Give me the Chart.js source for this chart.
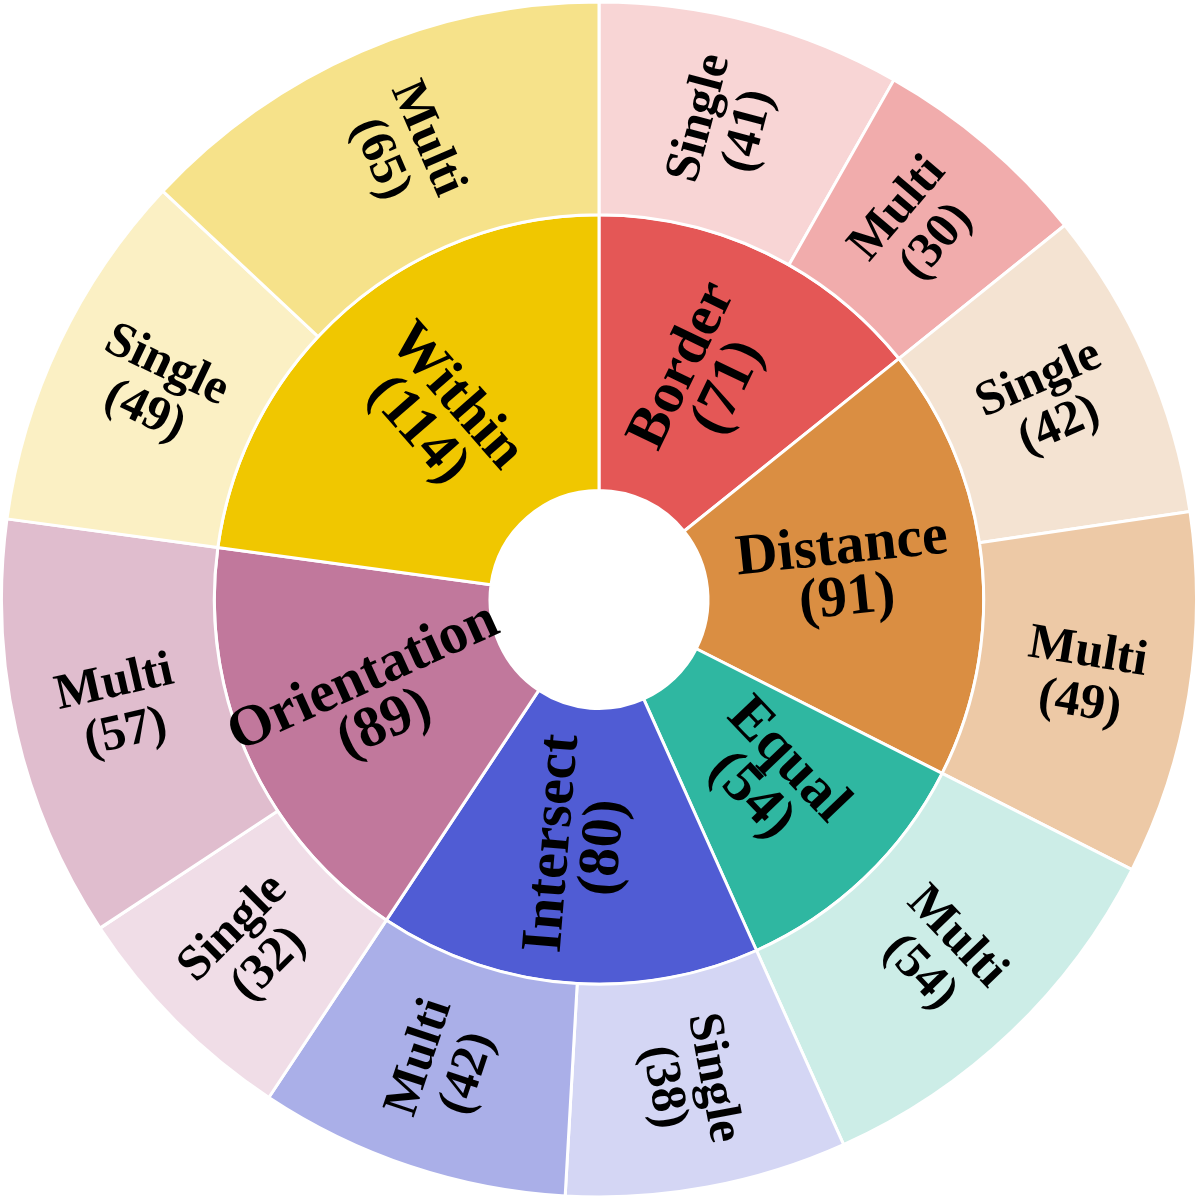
<!DOCTYPE html>
<html>
<head>
<meta charset="utf-8">
<script src="https://cdn.jsdelivr.net/npm/chart.js@4"></script>
<style>
  html, body { margin: 0; padding: 0; background: #ffffff; }
  #wrap { position: relative; width: 1198px; height: 1199px; }
</style>
</head>
<body>
<div id="wrap"><canvas id="c"></canvas></div>
<script>
// ---- data ----
const innerLabels = ["Border", "Distance", "Equal", "Intersect", "Orientation", "Within"];
const innerValues = [71, 91, 54, 80, 89, 114];
const innerColors = ["#E45756", "#DA8E42", "#2FB7A1", "#505CD4", "#C1789C", "#F0C700"];

const outerLabels = ["Single", "Multi", "Single", "Multi", "Multi", "Single", "Multi", "Single", "Multi", "Single", "Multi"];
const outerParents = ["Border", "Border", "Distance", "Distance", "Equal", "Intersect", "Intersect", "Orientation", "Orientation", "Within", "Within"];
const outerValues = [41, 30, 42, 49, 54, 38, 42, 32, 57, 49, 65];
const outerColors = ["#F8D5D5", "#F1ACAC", "#F4E3D2", "#EDC9A6", "#CCEDE7", "#D4D6F4", "#AAAFE8", "#F0DDE7", "#E0BDCE", "#FBF0C4", "#F6E28A"];

// ---- label plugin (radial text like a sunburst) ----
const ringFont = [
  { size: 50, lh: 51 },   // dataset 0: outer ring
  { size: 58, lh: 51 }    // dataset 1: inner ring
];
const radialLabels = {
  id: 'radialLabels',
  afterDatasetsDraw(chart) {
    const ctx = chart.ctx;
    chart.data.datasets.forEach((ds, di) => {
      const meta = chart.getDatasetMeta(di);
      const f = ringFont[di];
      meta.data.forEach((arc, i) => {
        const p = arc.getProps(['x', 'y', 'startAngle', 'endAngle', 'innerRadius', 'outerRadius'], true);
        const a = (p.startAngle + p.endAngle) / 2;
        const r = (p.innerRadius + p.outerRadius) / 2;
        const cx = p.x + r * Math.cos(a);
        const cy = p.y + r * Math.sin(a);
        let rot = a;
        while (rot > Math.PI) rot -= 2 * Math.PI;
        while (rot <= -Math.PI) rot += 2 * Math.PI;
        if (rot > Math.PI / 2) rot -= Math.PI;
        if (rot < -Math.PI / 2) rot += Math.PI;
        const lines = [ds.labelsText[i], '(' + ds.data[i] + ')'];
        ctx.save();
        ctx.translate(cx, cy);
        ctx.rotate(rot);
        ctx.fillStyle = '#000000';
        ctx.font = 'bold ' + f.size + 'px "Liberation Serif", "Times New Roman", serif';
        ctx.textAlign = 'center';
        ctx.textBaseline = 'middle';
        ctx.fillText(lines[0], 0, -f.lh / 2);
        ctx.fillText(lines[1], 0, f.lh / 2);
        ctx.restore();
      });
    });
  }
};

new Chart(document.getElementById('c'), {
  type: 'doughnut',
  data: {
    labels: outerLabels.map((l, i) => outerParents[i] + ' ' + l),
    datasets: [
      {
        data: outerValues,
        labelsText: outerLabels,
        backgroundColor: outerColors,
        borderColor: '#ffffff',
        borderWidth: 3,
        weight: 213
      },
      {
        data: innerValues,
        labelsText: innerLabels,
        backgroundColor: innerColors,
        borderColor: '#ffffff',
        borderWidth: 3,
        weight: 276
      }
    ]
  },
  options: {
    responsive: true,
    maintainAspectRatio: false,
    animation: false,
    cutout: 109,
    layout: { padding: 0 },
    plugins: {
      legend: { display: false },
      tooltip: { enabled: false }
    }
  },
  plugins: [radialLabels]
});
</script>
</body>
</html>
